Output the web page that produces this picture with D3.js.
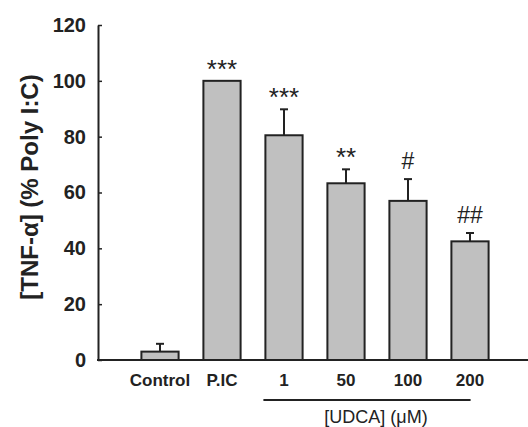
<!DOCTYPE html>
<html>
<head>
<meta charset="utf-8">
<script src="https://cdn.jsdelivr.net/npm/d3@7"></script>
<style>
  html, body { margin: 0; padding: 0; background: #fff; }
  svg { display: block; }
  text { font-family: "Liberation Sans", Arial, sans-serif; fill: #222; }
</style>
</head>
<body>
<svg id="chart" width="528" height="427"></svg>
<script>
// TNF-α release relative to Poly I:C stimulation
const categories = ["Control", "P.IC", "1", "50", "100", "200"];
const means      = [3, 100, 80.5, 63.3, 57, 42.5];
const errors     = [2.8, 0, 9.3, 5, 7.8, 3];
const marks      = ["", "***", "***", "**", "#", "##"];
const yTicks     = [0, 20, 40, 60, 80, 100, 120];

const svg = d3.select("#chart");
const x0 = 98, axisY = 360;

const x = d3.scaleBand()
  .domain(categories)
  .range([129, 501])
  .paddingInner(0.4)
  .paddingOuter(0.2);

const y = d3.scaleLinear().domain([0, 120]).range([axisY, 25]);

// y axis with inward ticks
const yAxis = svg.append("g")
  .attr("transform", `translate(${x0},0)`)
  .call(d3.axisLeft(y).tickValues(yTicks).tickSizeInner(-4).tickSizeOuter(0).tickPadding(12));
yAxis.select(".domain").attr("stroke", "#222").attr("stroke-width", 2);
yAxis.selectAll(".tick line").attr("stroke", "#222").attr("stroke-width", 1.5);
yAxis.selectAll(".tick text")
  .attr("font-size", 20).attr("font-weight", "bold").attr("fill", "#1e1e2a")
  .attr("font-family", "'Liberation Sans', Arial, sans-serif");

// x axis baseline running to the right edge
svg.append("line")
  .attr("x1", x0 - 1).attr("x2", 528)
  .attr("y1", axisY).attr("y2", axisY)
  .attr("stroke", "#222").attr("stroke-width", 2);

// bars
svg.selectAll("rect.bar")
  .data(categories)
  .join("rect")
  .attr("class", "bar")
  .attr("x", d => x(d))
  .attr("width", x.bandwidth())
  .attr("y", (d, i) => y(means[i]))
  .attr("height", (d, i) => axisY - y(means[i]))
  .attr("fill", "#c0c0c0")
  .attr("stroke", "#222")
  .attr("stroke-width", 2);

// upper error bars
const eb = svg.append("g").attr("stroke", "#222").attr("stroke-width", 2);
categories.forEach((c, i) => {
  if (!errors[i]) return;
  const cx = x(c) + x.bandwidth() / 2;
  eb.append("line").attr("x1", cx).attr("x2", cx)
    .attr("y1", y(means[i])).attr("y2", y(means[i] + errors[i]));
  eb.append("line").attr("x1", cx - 4).attr("x2", cx + 4)
    .attr("y1", y(means[i] + errors[i])).attr("y2", y(means[i] + errors[i]));
});

// significance marks
categories.forEach((c, i) => {
  if (!marks[i]) return;
  const cx = x(c) + x.bandwidth() / 2;
  const top = y(means[i] + errors[i]);
  const isStar = marks[i].includes("*");
  svg.append("text")
    .attr("x", cx)
    .attr("y", isStar ? top - 3 : top - 10)
    .attr("text-anchor", "middle")
    .attr("font-size", isStar ? 26 : 23)
    .attr("fill", "#333")
    .text(marks[i]);
});

// category labels
svg.selectAll("text.cat")
  .data(categories)
  .join("text")
  .attr("class", "cat")
  .attr("x", d => x(d) + x.bandwidth() / 2)
  .attr("y", 386)
  .attr("text-anchor", "middle")
  .attr("font-size", 17)
  .attr("font-weight", "bold")
  .attr("fill", "#2a2a35")
  .text(d => d);

// concentration bracket
const first = x("1"), last = x("200") + x.bandwidth();
svg.append("line")
  .attr("x1", first - 2).attr("x2", last - 18)
  .attr("y1", 400).attr("y2", 400)
  .attr("stroke", "#222").attr("stroke-width", 2);
svg.append("text")
  .attr("x", 376).attr("y", 423)
  .attr("text-anchor", "middle")
  .attr("font-size", 18)
  .attr("fill", "#2a2a35")
  .text("[UDCA] (μM)");

// y axis title
svg.append("text")
  .attr("transform", "translate(38,187) rotate(-90)")
  .attr("text-anchor", "middle")
  .attr("font-size", 24)
  .attr("font-weight", "bold")
  .attr("fill", "#111")
  .text("[TNF-α] (% Poly I:C)");
</script>
</body>
</html>
